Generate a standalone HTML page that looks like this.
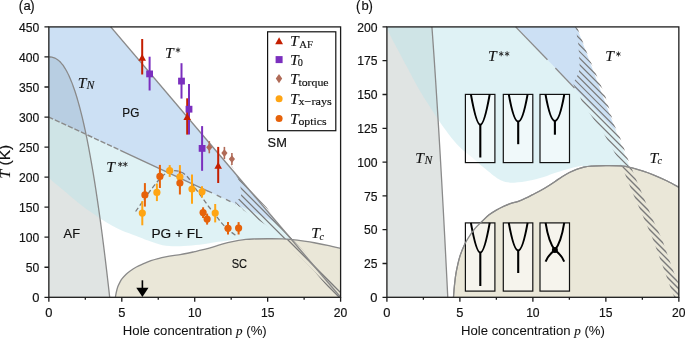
<!DOCTYPE html><html><head><meta charset="utf-8"><style>html,body{margin:0;padding:0;background:#fff;}svg{display:block;will-change:transform;}.s{font-family:"Liberation Sans",sans-serif;stroke:#111;stroke-width:0.18px;}.m{font-family:"Liberation Serif",serif;font-style:italic;stroke:#111;stroke-width:0.12px;}.r{font-family:"Liberation Serif",serif;stroke:#111;stroke-width:0.15px;}</style></head><body>
<svg width="685" height="338" viewBox="0 0 685 338">
<clipPath id="clipa"><rect x="48.85" y="26.9" width="291.75" height="270.4"/></clipPath>
<g clip-path="url(#clipa)">
<path d="M48.85,56.94 C49.1,56.95 49.86,56.95 50.37,56.99 C50.88,57.03 51.38,57.09 51.89,57.19 C52.4,57.28 52.91,57.41 53.41,57.57 C53.92,57.73 54.43,57.92 54.93,58.15 C55.44,58.38 55.95,58.65 56.45,58.96 C56.96,59.27 57.47,59.61 57.97,60.01 C58.48,60.4 58.99,60.83 59.5,61.31 C60,61.79 60.51,62.31 61.02,62.88 C61.52,63.45 62.03,64.06 62.54,64.72 C63.04,65.39 63.55,66.1 64.06,66.86 C64.56,67.62 65.07,68.42 65.58,69.28 C66.09,70.15 66.59,71.06 67.1,72.02 C67.61,72.98 68.11,74 68.62,75.07 C69.13,76.13 69.63,77.26 70.14,78.43 C70.65,79.61 71.15,80.84 71.66,82.13 C72.17,83.42 72.68,84.76 73.18,86.16 C73.69,87.56 74.2,89.01 74.7,90.53 C75.21,92.04 75.72,93.62 76.22,95.25 C76.73,96.88 77.24,98.57 77.74,100.32 C78.25,102.07 78.76,103.88 79.26,105.75 C79.77,107.62 80.28,109.55 80.79,111.55 C81.29,113.54 81.8,115.6 82.31,117.71 C82.81,119.83 83.32,122.01 83.83,124.26 C84.33,126.5 84.84,128.81 85.35,131.18 C85.85,133.55 86.36,135.98 86.87,138.49 C87.38,140.99 87.88,143.55 88.39,146.18 C88.9,148.82 89.4,151.51 89.91,154.28 C90.42,157.04 90.92,159.87 91.43,162.77 C91.94,165.67 92.44,168.63 92.95,171.66 C93.46,174.7 93.97,177.8 94.47,180.97 C94.98,184.14 95.49,187.37 95.99,190.68 C96.5,193.99 97.01,197.36 97.51,200.81 C98.02,204.26 98.53,207.77 99.03,211.36 C99.54,214.95 100.05,218.61 100.56,222.34 C101.06,226.07 101.57,229.87 102.08,233.74 C102.58,237.61 103.09,241.56 103.6,245.57 C104.1,249.59 104.61,253.68 105.12,257.84 C105.62,262.01 106.13,266.24 106.64,270.55 C107.15,274.86 107.65,279.25 108.16,283.7 C108.67,288.16 109.43,295.03 109.68,297.3 L48.85,297.3 L48.85,56.94 Z" fill="rgb(224,228,227)" fill-opacity="1"/>
<path d="M48.85,117.03 L278.06,223.72 L340.6,297.3 L244.32,297.3 L244.32,238.71 L244.32,238.71 C242.38,238.91 237.03,239.39 232.65,239.92 C228.28,240.44 222.44,241.21 218.06,241.84 C213.69,242.47 210.77,243.1 206.4,243.7 C202.02,244.3 196.91,245 191.81,245.44 C186.7,245.88 180.62,246.36 175.76,246.34 C170.9,246.32 167.25,246.29 162.63,245.32 C158.01,244.35 152.42,242.07 148.04,240.52 C143.67,238.96 140.75,237.66 136.38,236.01 C132,234.36 126.24,232.55 121.79,230.6 C117.34,228.65 113.81,226.7 109.68,224.29 C105.55,221.89 101.54,219.23 96.99,216.18 C92.44,213.13 87.02,209.47 82.4,205.96 C77.78,202.46 72.43,197.75 69.27,195.15 C66.11,192.55 65.63,192.14 63.44,190.34 C61.25,188.54 58.58,186.44 56.14,184.33 C53.71,182.23 50.07,178.82 48.85,177.72 Z" fill="rgb(187,227,234)" fill-opacity="0.47"/>
<path d="M48.85,-3.14 L85.22,-3.14 L278.06,223.72 L48.85,117.03 Z" fill="rgb(109,166,224)" fill-opacity="0.35"/>
<path d="M115.37,297.3 C115.51,296.5 115.86,294.2 116.24,292.49 C116.63,290.79 117.14,288.69 117.7,287.08 C118.26,285.48 118.87,284.28 119.6,282.88 C120.33,281.48 120.99,280.12 122.08,278.67 C123.17,277.22 124.88,275.42 126.16,274.17 C127.45,272.91 128.11,272.36 129.81,271.16 C131.51,269.96 134.07,268.21 136.38,266.96 C138.68,265.7 141.24,264.7 143.67,263.65 C146.1,262.6 148.53,261.5 150.96,260.65 C153.39,259.79 155.82,259.17 158.26,258.54 C160.69,257.91 163.12,257.36 165.55,256.86 C167.98,256.36 170.41,255.91 172.84,255.54 C175.28,255.17 177.71,255.02 180.14,254.64 C182.57,254.26 185,253.76 187.43,253.25 C189.86,252.75 192.29,252.18 194.72,251.63 C197.16,251.08 199.59,250.55 202.02,249.95 C204.45,249.35 206.88,248.7 209.31,248.03 C211.74,247.36 214.17,246.65 216.61,245.92 C219.04,245.2 221.47,244.38 223.9,243.7 C226.33,243.02 228.76,242.39 231.19,241.84 C233.62,241.29 236.06,240.8 238.49,240.4 C240.92,240 243.35,239.66 245.78,239.43 C248.21,239.2 249.43,239.12 253.07,239.01 C256.72,238.9 262.8,238.79 267.66,238.77 C272.53,238.75 278.12,238.75 282.25,238.89 C286.38,239.03 288.81,239.24 292.46,239.61 C296.11,239.99 300.48,240.6 304.13,241.12 C307.78,241.64 310.21,241.99 314.34,242.74 C318.48,243.49 324.55,244.68 328.93,245.62 C333.31,246.56 338.66,247.93 340.6,248.39 L347.89,248.39 L347.89,297.3 Z" fill="rgb(234,231,216)"/>
<clipPath id="banda"><path d="M230.46,163.9 L234.84,173.52 L237.76,178.32 L240.24,185.17 L241.41,193.95 L240.68,197.55 L234.99,202.12 L238.49,206.27 L241.26,207.41 L243.74,210.47 L255.99,218.46 L265.62,224.65 L273.64,230.96 L280.79,236.43 L285.31,241 L294.8,251.33 L303.4,259.98 L314.34,271.16 L326.01,285.28 L333.6,294.66 L336.22,297.3 L346.44,297.3 L334.77,285.28 L323.82,271.46 L314.34,262.45 L307.05,254.64 L299.75,246.83 L290.27,236.49 L280.94,225.19 L276.12,220.75 L266.79,207.41 L256.14,196.23 L249.57,189.5 L238.93,177.12 L230.46,163.9 Z"/></clipPath>
<clipPath id="domea"><path d="M115.37,297.3 C115.51,296.5 115.86,294.2 116.24,292.49 C116.63,290.79 117.14,288.69 117.7,287.08 C118.26,285.48 118.87,284.28 119.6,282.88 C120.33,281.48 120.99,280.12 122.08,278.67 C123.17,277.22 124.88,275.42 126.16,274.17 C127.45,272.91 128.11,272.36 129.81,271.16 C131.51,269.96 134.07,268.21 136.38,266.96 C138.68,265.7 141.24,264.7 143.67,263.65 C146.1,262.6 148.53,261.5 150.96,260.65 C153.39,259.79 155.82,259.17 158.26,258.54 C160.69,257.91 163.12,257.36 165.55,256.86 C167.98,256.36 170.41,255.91 172.84,255.54 C175.28,255.17 177.71,255.02 180.14,254.64 C182.57,254.26 185,253.76 187.43,253.25 C189.86,252.75 192.29,252.18 194.72,251.63 C197.16,251.08 199.59,250.55 202.02,249.95 C204.45,249.35 206.88,248.7 209.31,248.03 C211.74,247.36 214.17,246.65 216.61,245.92 C219.04,245.2 221.47,244.38 223.9,243.7 C226.33,243.02 228.76,242.39 231.19,241.84 C233.62,241.29 236.06,240.8 238.49,240.4 C240.92,240 243.35,239.66 245.78,239.43 C248.21,239.2 249.43,239.12 253.07,239.01 C256.72,238.9 262.8,238.79 267.66,238.77 C272.53,238.75 278.12,238.75 282.25,238.89 C286.38,239.03 288.81,239.24 292.46,239.61 C296.11,239.99 300.48,240.6 304.13,241.12 C307.78,241.64 310.21,241.99 314.34,242.74 C318.48,243.49 324.55,244.68 328.93,245.62 C333.31,246.56 338.66,247.93 340.6,248.39 L347.89,248.39 L347.89,297.3 Z"/></clipPath>
<clipPath id="upa"><rect x="0" y="0" width="700" height="239.31"/></clipPath>
<clipPath id="loa"><rect x="0" y="239.31" width="700" height="400"/></clipPath>
<g clip-path="url(#banda)"><path d="M200,-790 L700,-290 M200,-783.4 L700,-283.4 M200,-776.8 L700,-276.8 M200,-770.2 L700,-270.2 M200,-763.6 L700,-263.6 M200,-757 L700,-257 M200,-750.4 L700,-250.4 M200,-743.8 L700,-243.8 M200,-737.2 L700,-237.2 M200,-730.6 L700,-230.6 M200,-724 L700,-224 M200,-717.4 L700,-217.4 M200,-710.8 L700,-210.8 M200,-704.2 L700,-204.2 M200,-697.6 L700,-197.6 M200,-691 L700,-191 M200,-684.4 L700,-184.4 M200,-677.8 L700,-177.8 M200,-671.2 L700,-171.2 M200,-664.6 L700,-164.6 M200,-658 L700,-158 M200,-651.4 L700,-151.4 M200,-644.8 L700,-144.8 M200,-638.2 L700,-138.2 M200,-631.6 L700,-131.6 M200,-625 L700,-125 M200,-618.4 L700,-118.4 M200,-611.8 L700,-111.8 M200,-605.2 L700,-105.2 M200,-598.6 L700,-98.6 M200,-592 L700,-92 M200,-585.4 L700,-85.4 M200,-578.8 L700,-78.8 M200,-572.2 L700,-72.2 M200,-565.6 L700,-65.6 M200,-559 L700,-59 M200,-552.4 L700,-52.4 M200,-545.8 L700,-45.8 M200,-539.2 L700,-39.2 M200,-532.6 L700,-32.6 M200,-526 L700,-26 M200,-519.4 L700,-19.4 M200,-512.8 L700,-12.8 M200,-506.2 L700,-6.2 M200,-499.6 L700,0.4 M200,-493 L700,7 M200,-486.4 L700,13.6 M200,-479.8 L700,20.2 M200,-473.2 L700,26.8 M200,-466.6 L700,33.4 M200,-460 L700,40 M200,-453.4 L700,46.6 M200,-446.8 L700,53.2 M200,-440.2 L700,59.8 M200,-433.6 L700,66.4 M200,-427 L700,73 M200,-420.4 L700,79.6 M200,-413.8 L700,86.2 M200,-407.2 L700,92.8 M200,-400.6 L700,99.4 M200,-394 L700,106 M200,-387.4 L700,112.6 M200,-380.8 L700,119.2 M200,-374.2 L700,125.8 M200,-367.6 L700,132.4 M200,-361 L700,139 M200,-354.4 L700,145.6 M200,-347.8 L700,152.2 M200,-341.2 L700,158.8 M200,-334.6 L700,165.4 M200,-328 L700,172 M200,-321.4 L700,178.6 M200,-314.8 L700,185.2 M200,-308.2 L700,191.8 M200,-301.6 L700,198.4 M200,-295 L700,205 M200,-288.4 L700,211.6 M200,-281.8 L700,218.2 M200,-275.2 L700,224.8 M200,-268.6 L700,231.4 M200,-262 L700,238 M200,-255.4 L700,244.6 M200,-248.8 L700,251.2 M200,-242.2 L700,257.8 M200,-235.6 L700,264.4 M200,-229 L700,271 M200,-222.4 L700,277.6 M200,-215.8 L700,284.2 M200,-209.2 L700,290.8 M200,-202.6 L700,297.4 M200,-196 L700,304 M200,-189.4 L700,310.6 M200,-182.8 L700,317.2 M200,-176.2 L700,323.8 M200,-169.6 L700,330.4 M200,-163 L700,337 M200,-156.4 L700,343.6 M200,-149.8 L700,350.2 M200,-143.2 L700,356.8 M200,-136.6 L700,363.4 M200,-130 L700,370 M200,-123.4 L700,376.6 M200,-116.8 L700,383.2 M200,-110.2 L700,389.8 M200,-103.6 L700,396.4 M200,-97 L700,403 M200,-90.4 L700,409.6 M200,-83.8 L700,416.2 M200,-77.2 L700,422.8 M200,-70.6 L700,429.4 M200,-64 L700,436 M200,-57.4 L700,442.6 M200,-50.8 L700,449.2 M200,-44.2 L700,455.8 M200,-37.6 L700,462.4 M200,-31 L700,469 M200,-24.4 L700,475.6 M200,-17.8 L700,482.2 M200,-11.2 L700,488.8 M200,-4.6 L700,495.4 M200,2 L700,502 M200,8.6 L700,508.6 M200,15.2 L700,515.2 M200,21.8 L700,521.8 M200,28.4 L700,528.4 M200,35 L700,535 M200,41.6 L700,541.6 M200,48.2 L700,548.2 M200,54.8 L700,554.8 M200,61.4 L700,561.4 M200,68 L700,568 M200,74.6 L700,574.6 M200,81.2 L700,581.2 M200,87.8 L700,587.8 M200,94.4 L700,594.4 M200,101 L700,601 M200,107.6 L700,607.6 M200,114.2 L700,614.2 M200,120.8 L700,620.8 M200,127.4 L700,627.4 M200,134 L700,634 M200,140.6 L700,640.6 M200,147.2 L700,647.2 M200,153.8 L700,653.8 M200,160.4 L700,660.4 M200,167 L700,667 M200,173.6 L700,673.6 M200,180.2 L700,680.2 M200,186.8 L700,686.8 M200,193.4 L700,693.4 M200,200 L700,700 M200,206.6 L700,706.6 M200,213.2 L700,713.2 M200,219.8 L700,719.8 M200,226.4 L700,726.4 M200,233 L700,733 M200,239.6 L700,739.6 M200,246.2 L700,746.2 M200,252.8 L700,752.8 M200,259.4 L700,759.4 M200,266 L700,766 M200,272.6 L700,772.6 M200,279.2 L700,779.2 M200,285.8 L700,785.8 M200,292.4 L700,792.4 M200,299 L700,799 M200,305.6 L700,805.6 M200,312.2 L700,812.2 M200,318.8 L700,818.8 M200,325.4 L700,825.4 M200,332 L700,832 M200,338.6 L700,838.6 M200,345.2 L700,845.2 M200,351.8 L700,851.8 M200,358.4 L700,858.4 M200,365 L700,865 M200,371.6 L700,871.6 M200,378.2 L700,878.2 M200,384.8 L700,884.8 M200,391.4 L700,891.4 M200,398 L700,898 M200,404.6 L700,904.6 M200,411.2 L700,911.2 M200,417.8 L700,917.8 M200,424.4 L700,924.4 M200,431 L700,931 M200,437.6 L700,937.6 M200,444.2 L700,944.2 M200,450.8 L700,950.8 M200,457.4 L700,957.4 M200,464 L700,964 M200,470.6 L700,970.6 M200,477.2 L700,977.2 M200,483.8 L700,983.8 M200,490.4 L700,990.4 M200,497 L700,997 M200,503.6 L700,1003.6 M200,510.2 L700,1010.2 M200,516.8 L700,1016.8 M200,523.4 L700,1023.4 M200,530 L700,1030 M200,536.6 L700,1036.6 M200,543.2 L700,1043.2 M200,549.8 L700,1049.8 M200,556.4 L700,1056.4 M200,563 L700,1063 M200,569.6 L700,1069.6 M200,576.2 L700,1076.2 M200,582.8 L700,1082.8 M200,589.4 L700,1089.4 M200,596 L700,1096 M200,602.6 L700,1102.6 M200,609.2 L700,1109.2 M200,615.8 L700,1115.8 M200,622.4 L700,1122.4 M200,629 L700,1129 M200,635.6 L700,1135.6 M200,642.2 L700,1142.2 M200,648.8 L700,1148.8 M200,655.4 L700,1155.4 M200,662 L700,1162 M200,668.6 L700,1168.6 M200,675.2 L700,1175.2 M200,681.8 L700,1181.8 M200,688.4 L700,1188.4 M200,695 L700,1195 M200,701.6 L700,1201.6 M200,708.2 L700,1208.2 M200,714.8 L700,1214.8 M200,721.4 L700,1221.4 M200,728 L700,1228 M200,734.6 L700,1234.6 M200,741.2 L700,1241.2 M200,747.8 L700,1247.8 M200,754.4 L700,1254.4 M200,761 L700,1261 M200,767.6 L700,1267.6 M200,774.2 L700,1274.2 M200,780.8 L700,1280.8 M200,787.4 L700,1287.4 M200,794 L700,1294 M200,800.6 L700,1300.6 M200,807.2 L700,1307.2 M200,813.8 L700,1313.8 M200,820.4 L700,1320.4 M200,827 L700,1327 M200,833.6 L700,1333.6 M200,840.2 L700,1340.2 M200,846.8 L700,1346.8 M200,853.4 L700,1353.4 M200,860 L700,1360 M200,866.6 L700,1366.6 M200,873.2 L700,1373.2 M200,879.8 L700,1379.8 M200,886.4 L700,1386.4 M200,893 L700,1393 M200,899.6 L700,1399.6 M200,906.2 L700,1406.2 M200,912.8 L700,1412.8 M200,919.4 L700,1419.4 M200,926 L700,1426 M200,932.6 L700,1432.6 M200,939.2 L700,1439.2 M200,945.8 L700,1445.8 M200,952.4 L700,1452.4 M200,959 L700,1459 M200,965.6 L700,1465.6 M200,972.2 L700,1472.2 M200,978.8 L700,1478.8 M200,985.4 L700,1485.4 M200,992 L700,1492 M200,998.6 L700,1498.6 M200,1005.2 L700,1505.2 M200,1011.8 L700,1511.8 M200,1018.4 L700,1518.4 M200,1025 L700,1525 M200,1031.6 L700,1531.6 M200,1038.2 L700,1538.2 M200,1044.8 L700,1544.8 M200,1051.4 L700,1551.4 M200,1058 L700,1558 M200,1064.6 L700,1564.6 M200,1071.2 L700,1571.2 M200,1077.8 L700,1577.8 M200,1084.4 L700,1584.4 M200,1091 L700,1591 M200,1097.6 L700,1597.6 M200,1104.2 L700,1604.2 M200,1110.8 L700,1610.8 M200,1117.4 L700,1617.4 M200,1124 L700,1624 M200,1130.6 L700,1630.6 M200,1137.2 L700,1637.2 M200,1143.8 L700,1643.8 M200,1150.4 L700,1650.4 M200,1157 L700,1657 M200,1163.6 L700,1663.6 M200,1170.2 L700,1670.2 M200,1176.8 L700,1676.8 M200,1183.4 L700,1683.4" stroke="#7a7a7a" stroke-width="1.2" fill="none" clip-path="url(#upa)"/></g>
<g clip-path="url(#banda)"><path d="M200,-700 L700,-200 M200,-694 L700,-194 M200,-688 L700,-188 M200,-682 L700,-182 M200,-676 L700,-176 M200,-670 L700,-170 M200,-664 L700,-164 M200,-658 L700,-158 M200,-652 L700,-152 M200,-646 L700,-146 M200,-640 L700,-140 M200,-634 L700,-134 M200,-628 L700,-128 M200,-622 L700,-122 M200,-616 L700,-116 M200,-610 L700,-110 M200,-604 L700,-104 M200,-598 L700,-98 M200,-592 L700,-92 M200,-586 L700,-86 M200,-580 L700,-80 M200,-574 L700,-74 M200,-568 L700,-68 M200,-562 L700,-62 M200,-556 L700,-56 M200,-550 L700,-50 M200,-544 L700,-44 M200,-538 L700,-38 M200,-532 L700,-32 M200,-526 L700,-26 M200,-520 L700,-20 M200,-514 L700,-14 M200,-508 L700,-8 M200,-502 L700,-2 M200,-496 L700,4 M200,-490 L700,10 M200,-484 L700,16 M200,-478 L700,22 M200,-472 L700,28 M200,-466 L700,34 M200,-460 L700,40 M200,-454 L700,46 M200,-448 L700,52 M200,-442 L700,58 M200,-436 L700,64 M200,-430 L700,70 M200,-424 L700,76 M200,-418 L700,82 M200,-412 L700,88 M200,-406 L700,94 M200,-400 L700,100 M200,-394 L700,106 M200,-388 L700,112 M200,-382 L700,118 M200,-376 L700,124 M200,-370 L700,130 M200,-364 L700,136 M200,-358 L700,142 M200,-352 L700,148 M200,-346 L700,154 M200,-340 L700,160 M200,-334 L700,166 M200,-328 L700,172 M200,-322 L700,178 M200,-316 L700,184 M200,-310 L700,190 M200,-304 L700,196 M200,-298 L700,202 M200,-292 L700,208 M200,-286 L700,214 M200,-280 L700,220 M200,-274 L700,226 M200,-268 L700,232 M200,-262 L700,238 M200,-256 L700,244 M200,-250 L700,250 M200,-244 L700,256 M200,-238 L700,262 M200,-232 L700,268 M200,-226 L700,274 M200,-220 L700,280 M200,-214 L700,286 M200,-208 L700,292 M200,-202 L700,298 M200,-196 L700,304 M200,-190 L700,310 M200,-184 L700,316 M200,-178 L700,322 M200,-172 L700,328 M200,-166 L700,334 M200,-160 L700,340 M200,-154 L700,346 M200,-148 L700,352 M200,-142 L700,358 M200,-136 L700,364 M200,-130 L700,370 M200,-124 L700,376 M200,-118 L700,382 M200,-112 L700,388 M200,-106 L700,394 M200,-100 L700,400 M200,-94 L700,406 M200,-88 L700,412 M200,-82 L700,418 M200,-76 L700,424 M200,-70 L700,430 M200,-64 L700,436 M200,-58 L700,442 M200,-52 L700,448 M200,-46 L700,454 M200,-40 L700,460 M200,-34 L700,466 M200,-28 L700,472 M200,-22 L700,478 M200,-16 L700,484 M200,-10 L700,490 M200,-4 L700,496 M200,2 L700,502 M200,8 L700,508 M200,14 L700,514 M200,20 L700,520 M200,26 L700,526 M200,32 L700,532 M200,38 L700,538 M200,44 L700,544 M200,50 L700,550 M200,56 L700,556 M200,62 L700,562 M200,68 L700,568 M200,74 L700,574 M200,80 L700,580 M200,86 L700,586 M200,92 L700,592 M200,98 L700,598 M200,104 L700,604 M200,110 L700,610 M200,116 L700,616 M200,122 L700,622 M200,128 L700,628 M200,134 L700,634 M200,140 L700,640 M200,146 L700,646 M200,152 L700,652 M200,158 L700,658 M200,164 L700,664 M200,170 L700,670 M200,176 L700,676 M200,182 L700,682 M200,188 L700,688 M200,194 L700,694 M200,200 L700,700 M200,206 L700,706 M200,212 L700,712 M200,218 L700,718 M200,224 L700,724 M200,230 L700,730 M200,236 L700,736 M200,242 L700,742 M200,248 L700,748 M200,254 L700,754 M200,260 L700,760 M200,266 L700,766 M200,272 L700,772 M200,278 L700,778 M200,284 L700,784 M200,290 L700,790 M200,296 L700,796 M200,302 L700,802 M200,308 L700,808 M200,314 L700,814 M200,320 L700,820 M200,326 L700,826 M200,332 L700,832 M200,338 L700,838 M200,344 L700,844 M200,350 L700,850 M200,356 L700,856 M200,362 L700,862 M200,368 L700,868 M200,374 L700,874 M200,380 L700,880 M200,386 L700,886 M200,392 L700,892 M200,398 L700,898 M200,404 L700,904 M200,410 L700,910 M200,416 L700,916 M200,422 L700,922 M200,428 L700,928 M200,434 L700,934 M200,440 L700,940 M200,446 L700,946 M200,452 L700,952 M200,458 L700,958 M200,464 L700,964 M200,470 L700,970 M200,476 L700,976 M200,482 L700,982 M200,488 L700,988 M200,494 L700,994 M200,500 L700,1000 M200,506 L700,1006 M200,512 L700,1012 M200,518 L700,1018 M200,524 L700,1024 M200,530 L700,1030 M200,536 L700,1036 M200,542 L700,1042 M200,548 L700,1048 M200,554 L700,1054 M200,560 L700,1060 M200,566 L700,1066 M200,572 L700,1072 M200,578 L700,1078 M200,584 L700,1084 M200,590 L700,1090 M200,596 L700,1096 M200,602 L700,1102 M200,608 L700,1108 M200,614 L700,1114 M200,620 L700,1120 M200,626 L700,1126 M200,632 L700,1132 M200,638 L700,1138 M200,644 L700,1144 M200,650 L700,1150 M200,656 L700,1156 M200,662 L700,1162 M200,668 L700,1168 M200,674 L700,1174 M200,680 L700,1180 M200,686 L700,1186 M200,692 L700,1192 M200,698 L700,1198 M200,704 L700,1204 M200,710 L700,1210 M200,716 L700,1216 M200,722 L700,1222 M200,728 L700,1228 M200,734 L700,1234 M200,740 L700,1240 M200,746 L700,1246 M200,752 L700,1252 M200,758 L700,1258 M200,764 L700,1264 M200,770 L700,1270 M200,776 L700,1276 M200,782 L700,1282 M200,788 L700,1288 M200,794 L700,1294 M200,800 L700,1300 M200,806 L700,1306 M200,812 L700,1312 M200,818 L700,1318 M200,824 L700,1324 M200,830 L700,1330 M200,836 L700,1336 M200,842 L700,1342 M200,848 L700,1348 M200,854 L700,1354 M200,860 L700,1360 M200,866 L700,1366 M200,872 L700,1372 M200,878 L700,1378 M200,884 L700,1384 M200,890 L700,1390 M200,896 L700,1396 M200,902 L700,1402 M200,908 L700,1408 M200,914 L700,1414 M200,920 L700,1420 M200,926 L700,1426 M200,932 L700,1432 M200,938 L700,1438 M200,944 L700,1444 M200,950 L700,1450 M200,956 L700,1456 M200,962 L700,1462 M200,968 L700,1468 M200,974 L700,1474 M200,980 L700,1480 M200,986 L700,1486 M200,992 L700,1492 M200,998 L700,1498 M200,1004 L700,1504 M200,1010 L700,1510 M200,1016 L700,1516 M200,1022 L700,1522 M200,1028 L700,1528 M200,1034 L700,1534 M200,1040 L700,1540 M200,1046 L700,1546 M200,1052 L700,1552 M200,1058 L700,1558 M200,1064 L700,1564 M200,1070 L700,1570 M200,1076 L700,1576 M200,1082 L700,1582 M200,1088 L700,1588 M200,1094 L700,1594" stroke="#7a7a7a" stroke-width="1.3" fill="none" clip-path="url(#loa)"/></g>
<path d="M48.85,56.94 C49.1,56.95 49.86,56.95 50.37,56.99 C50.88,57.03 51.38,57.09 51.89,57.19 C52.4,57.28 52.91,57.41 53.41,57.57 C53.92,57.73 54.43,57.92 54.93,58.15 C55.44,58.38 55.95,58.65 56.45,58.96 C56.96,59.27 57.47,59.61 57.97,60.01 C58.48,60.4 58.99,60.83 59.5,61.31 C60,61.79 60.51,62.31 61.02,62.88 C61.52,63.45 62.03,64.06 62.54,64.72 C63.04,65.39 63.55,66.1 64.06,66.86 C64.56,67.62 65.07,68.42 65.58,69.28 C66.09,70.15 66.59,71.06 67.1,72.02 C67.61,72.98 68.11,74 68.62,75.07 C69.13,76.13 69.63,77.26 70.14,78.43 C70.65,79.61 71.15,80.84 71.66,82.13 C72.17,83.42 72.68,84.76 73.18,86.16 C73.69,87.56 74.2,89.01 74.7,90.53 C75.21,92.04 75.72,93.62 76.22,95.25 C76.73,96.88 77.24,98.57 77.74,100.32 C78.25,102.07 78.76,103.88 79.26,105.75 C79.77,107.62 80.28,109.55 80.79,111.55 C81.29,113.54 81.8,115.6 82.31,117.71 C82.81,119.83 83.32,122.01 83.83,124.26 C84.33,126.5 84.84,128.81 85.35,131.18 C85.85,133.55 86.36,135.98 86.87,138.49 C87.38,140.99 87.88,143.55 88.39,146.18 C88.9,148.82 89.4,151.51 89.91,154.28 C90.42,157.04 90.92,159.87 91.43,162.77 C91.94,165.67 92.44,168.63 92.95,171.66 C93.46,174.7 93.97,177.8 94.47,180.97 C94.98,184.14 95.49,187.37 95.99,190.68 C96.5,193.99 97.01,197.36 97.51,200.81 C98.02,204.26 98.53,207.77 99.03,211.36 C99.54,214.95 100.05,218.61 100.56,222.34 C101.06,226.07 101.57,229.87 102.08,233.74 C102.58,237.61 103.09,241.56 103.6,245.57 C104.1,249.59 104.61,253.68 105.12,257.84 C105.62,262.01 106.13,266.24 106.64,270.55 C107.15,274.86 107.65,279.25 108.16,283.7 C108.67,288.16 109.43,295.03 109.68,297.3" stroke="#8a8a8a" stroke-width="1.3" fill="none"/>
<path d="M115.37,297.3 C115.51,296.5 115.86,294.2 116.24,292.49 C116.63,290.79 117.14,288.69 117.7,287.08 C118.26,285.48 118.87,284.28 119.6,282.88 C120.33,281.48 120.99,280.12 122.08,278.67 C123.17,277.22 124.88,275.42 126.16,274.17 C127.45,272.91 128.11,272.36 129.81,271.16 C131.51,269.96 134.07,268.21 136.38,266.96 C138.68,265.7 141.24,264.7 143.67,263.65 C146.1,262.6 148.53,261.5 150.96,260.65 C153.39,259.79 155.82,259.17 158.26,258.54 C160.69,257.91 163.12,257.36 165.55,256.86 C167.98,256.36 170.41,255.91 172.84,255.54 C175.28,255.17 177.71,255.02 180.14,254.64 C182.57,254.26 185,253.76 187.43,253.25 C189.86,252.75 192.29,252.18 194.72,251.63 C197.16,251.08 199.59,250.55 202.02,249.95 C204.45,249.35 206.88,248.7 209.31,248.03 C211.74,247.36 214.17,246.65 216.61,245.92 C219.04,245.2 221.47,244.38 223.9,243.7 C226.33,243.02 228.76,242.39 231.19,241.84 C233.62,241.29 236.06,240.8 238.49,240.4 C240.92,240 243.35,239.66 245.78,239.43 C248.21,239.2 249.43,239.12 253.07,239.01 C256.72,238.9 262.8,238.79 267.66,238.77 C272.53,238.75 278.12,238.75 282.25,238.89 C286.38,239.03 288.81,239.24 292.46,239.61 C296.11,239.99 300.48,240.6 304.13,241.12 C307.78,241.64 310.21,241.99 314.34,242.74 C318.48,243.49 324.55,244.68 328.93,245.62 C333.31,246.56 338.66,247.93 340.6,248.39" stroke="#8a8a8a" stroke-width="1.3" fill="none"/>
</g>
<clipPath id="clipb"><rect x="386.9" y="26.9" width="291.95" height="270.4"/></clipPath>
<g clip-path="url(#clipb)">
<path d="M386.9,-243.5 C387.15,-243.48 387.91,-243.48 388.42,-243.39 C388.93,-243.3 389.44,-243.16 389.94,-242.95 C390.45,-242.74 390.96,-242.46 391.47,-242.1 C391.97,-241.74 392.48,-241.31 392.99,-240.79 C393.49,-240.27 394,-239.67 394.51,-238.97 C395.02,-238.28 395.52,-237.49 396.03,-236.61 C396.54,-235.73 397.05,-234.76 397.55,-233.68 C398.06,-232.61 398.57,-231.43 399.07,-230.15 C399.58,-228.87 400.09,-227.49 400.6,-226 C401.1,-224.51 401.61,-222.91 402.12,-221.2 C402.63,-219.49 403.13,-217.67 403.64,-215.73 C404.15,-213.8 404.65,-211.75 405.16,-209.58 C405.67,-207.42 406.18,-205.13 406.68,-202.73 C407.19,-200.32 407.7,-197.8 408.21,-195.15 C408.71,-192.5 409.22,-189.73 409.73,-186.84 C410.23,-183.94 410.74,-180.92 411.25,-177.77 C411.76,-174.62 412.26,-171.34 412.77,-167.93 C413.28,-164.52 413.78,-160.99 414.29,-157.32 C414.8,-153.64 415.31,-149.84 415.81,-145.9 C416.32,-141.97 416.83,-137.89 417.34,-133.68 C417.84,-129.47 418.35,-125.13 418.86,-120.64 C419.36,-116.16 419.87,-111.53 420.38,-106.77 C420.89,-102 421.39,-97.1 421.9,-92.05 C422.41,-87 422.92,-81.81 423.42,-76.47 C423.93,-71.14 424.44,-65.66 424.94,-60.03 C425.45,-54.4 425.96,-48.63 426.47,-42.71 C426.97,-36.79 427.48,-30.72 427.99,-24.5 C428.5,-18.29 429,-11.92 429.51,-5.4 C430.02,1.12 430.52,7.79 431.03,14.62 C431.54,21.44 432.05,28.42 432.55,35.55 C433.06,42.68 433.57,49.96 434.08,57.41 C434.58,64.85 435.09,72.44 435.6,80.2 C436.1,87.96 436.61,95.87 437.12,103.94 C437.63,112.01 438.13,120.24 438.64,128.63 C439.15,137.03 439.66,145.58 440.16,154.29 C440.67,163.01 441.18,171.88 441.68,180.92 C442.19,189.96 442.7,199.16 443.21,208.53 C443.71,217.89 444.22,227.42 444.73,237.12 C445.24,246.82 445.74,256.68 446.25,266.71 C446.76,276.74 447.52,292.2 447.77,297.3 L386.9,297.3 L386.9,-243.5 Z" fill="rgb(224,228,227)" fill-opacity="1"/>
<path d="M386.9,-108.3 L616.27,131.75 L678.85,297.3 L582.51,297.3 L582.51,165.48 L582.51,165.48 C580.56,165.93 575.21,167.01 570.83,168.18 C566.45,169.36 560.61,171.09 556.23,172.51 C551.85,173.93 548.93,175.35 544.55,176.7 C540.17,178.05 535.06,179.63 529.96,180.62 C524.85,181.61 518.76,182.7 513.9,182.65 C509.03,182.61 505.38,182.54 500.76,180.35 C496.14,178.17 490.54,173.03 486.16,169.54 C481.78,166.04 478.86,163.11 474.49,159.4 C470.11,155.68 464.34,151.62 459.89,147.23 C455.44,142.83 451.91,138.44 447.77,133.03 C443.64,127.62 439.62,121.65 435.07,114.78 C430.52,107.91 425.1,99.68 420.47,91.8 C415.85,83.91 410.5,73.32 407.34,67.46 C404.17,61.6 403.69,60.7 401.5,56.64 C399.31,52.59 396.63,47.86 394.2,43.12 C391.77,38.39 388.12,30.73 386.9,28.25 Z" fill="rgb(187,227,234)" fill-opacity="0.47"/>
<path d="M386.9,-40.7 L551.07,-40.7 L616.27,131.75 L386.9,-108.3 Z" fill="rgb(109,166,224)" fill-opacity="0.35"/>
<path d="M453.46,297.3 C453.61,295.5 453.95,290.31 454.34,286.48 C454.73,282.65 455.24,277.92 455.8,274.32 C456.36,270.71 456.97,268.01 457.7,264.85 C458.43,261.7 459.08,258.66 460.18,255.39 C461.27,252.12 462.98,248.06 464.27,245.25 C465.56,242.43 466.21,241.19 467.92,238.49 C469.62,235.78 472.17,231.84 474.49,229.02 C476.8,226.21 479.35,223.95 481.78,221.59 C484.22,219.22 486.65,216.74 489.08,214.83 C491.52,212.91 493.95,211.52 496.38,210.1 C498.81,208.68 501.25,207.44 503.68,206.31 C506.11,205.18 508.55,204.17 510.98,203.34 C513.41,202.5 515.84,202.16 518.28,201.31 C520.71,200.45 523.14,199.33 525.58,198.2 C528.01,197.07 530.44,195.79 532.88,194.55 C535.31,193.31 537.74,192.11 540.17,190.76 C542.61,189.41 545.04,187.95 547.47,186.44 C549.91,184.93 552.34,183.33 554.77,181.7 C557.2,180.08 559.64,178.23 562.07,176.7 C564.5,175.17 566.94,173.75 569.37,172.51 C571.8,171.27 574.23,170.17 576.67,169.27 C579.1,168.36 581.53,167.62 583.97,167.1 C586.4,166.58 587.62,166.4 591.26,166.16 C594.91,165.91 601,165.66 605.86,165.62 C610.73,165.57 616.32,165.57 620.46,165.89 C624.6,166.2 627.03,166.67 630.68,167.51 C634.33,168.34 638.71,169.72 642.36,170.89 C646.01,172.06 648.44,172.85 652.57,174.54 C656.71,176.23 662.79,178.91 667.17,181.03 C671.55,183.15 676.9,186.21 678.85,187.25 L686.15,187.25 L686.15,297.3 Z" fill="rgb(234,231,216)"/>
<clipPath id="bandb"><path d="M568.64,-2.84 L573.02,18.79 L575.94,29.6 L578.42,45.02 L579.59,64.76 L578.86,72.87 L573.16,83.14 L576.67,92.47 L579.44,95.04 L581.92,101.94 L594.18,119.92 L603.82,133.84 L611.85,148.04 L619,160.34 L623.53,170.62 L633.01,193.87 L641.63,213.34 L652.57,238.49 L664.25,270.26 L671.84,291.35 L674.47,297.3 L684.69,297.3 L673.01,270.26 L662.06,239.16 L652.57,218.88 L645.28,201.31 L637.98,183.73 L628.49,160.48 L619.15,135.06 L614.33,125.06 L604.99,95.04 L594.33,69.89 L587.76,54.75 L577.11,26.9 L568.64,-2.84 Z"/></clipPath>
<clipPath id="domeb"><path d="M453.46,297.3 C453.61,295.5 453.95,290.31 454.34,286.48 C454.73,282.65 455.24,277.92 455.8,274.32 C456.36,270.71 456.97,268.01 457.7,264.85 C458.43,261.7 459.08,258.66 460.18,255.39 C461.27,252.12 462.98,248.06 464.27,245.25 C465.56,242.43 466.21,241.19 467.92,238.49 C469.62,235.78 472.17,231.84 474.49,229.02 C476.8,226.21 479.35,223.95 481.78,221.59 C484.22,219.22 486.65,216.74 489.08,214.83 C491.52,212.91 493.95,211.52 496.38,210.1 C498.81,208.68 501.25,207.44 503.68,206.31 C506.11,205.18 508.55,204.17 510.98,203.34 C513.41,202.5 515.84,202.16 518.28,201.31 C520.71,200.45 523.14,199.33 525.58,198.2 C528.01,197.07 530.44,195.79 532.88,194.55 C535.31,193.31 537.74,192.11 540.17,190.76 C542.61,189.41 545.04,187.95 547.47,186.44 C549.91,184.93 552.34,183.33 554.77,181.7 C557.2,180.08 559.64,178.23 562.07,176.7 C564.5,175.17 566.94,173.75 569.37,172.51 C571.8,171.27 574.23,170.17 576.67,169.27 C579.1,168.36 581.53,167.62 583.97,167.1 C586.4,166.58 587.62,166.4 591.26,166.16 C594.91,165.91 601,165.66 605.86,165.62 C610.73,165.57 616.32,165.57 620.46,165.89 C624.6,166.2 627.03,166.67 630.68,167.51 C634.33,168.34 638.71,169.72 642.36,170.89 C646.01,172.06 648.44,172.85 652.57,174.54 C656.71,176.23 662.79,178.91 667.17,181.03 C671.55,183.15 676.9,186.21 678.85,187.25 L686.15,187.25 L686.15,297.3 Z"/></clipPath>
<clipPath id="upb"><rect x="0" y="0" width="700" height="166.83"/></clipPath>
<clipPath id="lob"><rect x="0" y="166.83" width="700" height="400"/></clipPath>
<g clip-path="url(#bandb)"><path d="M200,-790 L700,-290 M200,-783.4 L700,-283.4 M200,-776.8 L700,-276.8 M200,-770.2 L700,-270.2 M200,-763.6 L700,-263.6 M200,-757 L700,-257 M200,-750.4 L700,-250.4 M200,-743.8 L700,-243.8 M200,-737.2 L700,-237.2 M200,-730.6 L700,-230.6 M200,-724 L700,-224 M200,-717.4 L700,-217.4 M200,-710.8 L700,-210.8 M200,-704.2 L700,-204.2 M200,-697.6 L700,-197.6 M200,-691 L700,-191 M200,-684.4 L700,-184.4 M200,-677.8 L700,-177.8 M200,-671.2 L700,-171.2 M200,-664.6 L700,-164.6 M200,-658 L700,-158 M200,-651.4 L700,-151.4 M200,-644.8 L700,-144.8 M200,-638.2 L700,-138.2 M200,-631.6 L700,-131.6 M200,-625 L700,-125 M200,-618.4 L700,-118.4 M200,-611.8 L700,-111.8 M200,-605.2 L700,-105.2 M200,-598.6 L700,-98.6 M200,-592 L700,-92 M200,-585.4 L700,-85.4 M200,-578.8 L700,-78.8 M200,-572.2 L700,-72.2 M200,-565.6 L700,-65.6 M200,-559 L700,-59 M200,-552.4 L700,-52.4 M200,-545.8 L700,-45.8 M200,-539.2 L700,-39.2 M200,-532.6 L700,-32.6 M200,-526 L700,-26 M200,-519.4 L700,-19.4 M200,-512.8 L700,-12.8 M200,-506.2 L700,-6.2 M200,-499.6 L700,0.4 M200,-493 L700,7 M200,-486.4 L700,13.6 M200,-479.8 L700,20.2 M200,-473.2 L700,26.8 M200,-466.6 L700,33.4 M200,-460 L700,40 M200,-453.4 L700,46.6 M200,-446.8 L700,53.2 M200,-440.2 L700,59.8 M200,-433.6 L700,66.4 M200,-427 L700,73 M200,-420.4 L700,79.6 M200,-413.8 L700,86.2 M200,-407.2 L700,92.8 M200,-400.6 L700,99.4 M200,-394 L700,106 M200,-387.4 L700,112.6 M200,-380.8 L700,119.2 M200,-374.2 L700,125.8 M200,-367.6 L700,132.4 M200,-361 L700,139 M200,-354.4 L700,145.6 M200,-347.8 L700,152.2 M200,-341.2 L700,158.8 M200,-334.6 L700,165.4 M200,-328 L700,172 M200,-321.4 L700,178.6 M200,-314.8 L700,185.2 M200,-308.2 L700,191.8 M200,-301.6 L700,198.4 M200,-295 L700,205 M200,-288.4 L700,211.6 M200,-281.8 L700,218.2 M200,-275.2 L700,224.8 M200,-268.6 L700,231.4 M200,-262 L700,238 M200,-255.4 L700,244.6 M200,-248.8 L700,251.2 M200,-242.2 L700,257.8 M200,-235.6 L700,264.4 M200,-229 L700,271 M200,-222.4 L700,277.6 M200,-215.8 L700,284.2 M200,-209.2 L700,290.8 M200,-202.6 L700,297.4 M200,-196 L700,304 M200,-189.4 L700,310.6 M200,-182.8 L700,317.2 M200,-176.2 L700,323.8 M200,-169.6 L700,330.4 M200,-163 L700,337 M200,-156.4 L700,343.6 M200,-149.8 L700,350.2 M200,-143.2 L700,356.8 M200,-136.6 L700,363.4 M200,-130 L700,370 M200,-123.4 L700,376.6 M200,-116.8 L700,383.2 M200,-110.2 L700,389.8 M200,-103.6 L700,396.4 M200,-97 L700,403 M200,-90.4 L700,409.6 M200,-83.8 L700,416.2 M200,-77.2 L700,422.8 M200,-70.6 L700,429.4 M200,-64 L700,436 M200,-57.4 L700,442.6 M200,-50.8 L700,449.2 M200,-44.2 L700,455.8 M200,-37.6 L700,462.4 M200,-31 L700,469 M200,-24.4 L700,475.6 M200,-17.8 L700,482.2 M200,-11.2 L700,488.8 M200,-4.6 L700,495.4 M200,2 L700,502 M200,8.6 L700,508.6 M200,15.2 L700,515.2 M200,21.8 L700,521.8 M200,28.4 L700,528.4 M200,35 L700,535 M200,41.6 L700,541.6 M200,48.2 L700,548.2 M200,54.8 L700,554.8 M200,61.4 L700,561.4 M200,68 L700,568 M200,74.6 L700,574.6 M200,81.2 L700,581.2 M200,87.8 L700,587.8 M200,94.4 L700,594.4 M200,101 L700,601 M200,107.6 L700,607.6 M200,114.2 L700,614.2 M200,120.8 L700,620.8 M200,127.4 L700,627.4 M200,134 L700,634 M200,140.6 L700,640.6 M200,147.2 L700,647.2 M200,153.8 L700,653.8 M200,160.4 L700,660.4 M200,167 L700,667 M200,173.6 L700,673.6 M200,180.2 L700,680.2 M200,186.8 L700,686.8 M200,193.4 L700,693.4 M200,200 L700,700 M200,206.6 L700,706.6 M200,213.2 L700,713.2 M200,219.8 L700,719.8 M200,226.4 L700,726.4 M200,233 L700,733 M200,239.6 L700,739.6 M200,246.2 L700,746.2 M200,252.8 L700,752.8 M200,259.4 L700,759.4 M200,266 L700,766 M200,272.6 L700,772.6 M200,279.2 L700,779.2 M200,285.8 L700,785.8 M200,292.4 L700,792.4 M200,299 L700,799 M200,305.6 L700,805.6 M200,312.2 L700,812.2 M200,318.8 L700,818.8 M200,325.4 L700,825.4 M200,332 L700,832 M200,338.6 L700,838.6 M200,345.2 L700,845.2 M200,351.8 L700,851.8 M200,358.4 L700,858.4 M200,365 L700,865 M200,371.6 L700,871.6 M200,378.2 L700,878.2 M200,384.8 L700,884.8 M200,391.4 L700,891.4 M200,398 L700,898 M200,404.6 L700,904.6 M200,411.2 L700,911.2 M200,417.8 L700,917.8 M200,424.4 L700,924.4 M200,431 L700,931 M200,437.6 L700,937.6 M200,444.2 L700,944.2 M200,450.8 L700,950.8 M200,457.4 L700,957.4 M200,464 L700,964 M200,470.6 L700,970.6 M200,477.2 L700,977.2 M200,483.8 L700,983.8 M200,490.4 L700,990.4 M200,497 L700,997 M200,503.6 L700,1003.6 M200,510.2 L700,1010.2 M200,516.8 L700,1016.8 M200,523.4 L700,1023.4 M200,530 L700,1030 M200,536.6 L700,1036.6 M200,543.2 L700,1043.2 M200,549.8 L700,1049.8 M200,556.4 L700,1056.4 M200,563 L700,1063 M200,569.6 L700,1069.6 M200,576.2 L700,1076.2 M200,582.8 L700,1082.8 M200,589.4 L700,1089.4 M200,596 L700,1096 M200,602.6 L700,1102.6 M200,609.2 L700,1109.2 M200,615.8 L700,1115.8 M200,622.4 L700,1122.4 M200,629 L700,1129 M200,635.6 L700,1135.6 M200,642.2 L700,1142.2 M200,648.8 L700,1148.8 M200,655.4 L700,1155.4 M200,662 L700,1162 M200,668.6 L700,1168.6 M200,675.2 L700,1175.2 M200,681.8 L700,1181.8 M200,688.4 L700,1188.4 M200,695 L700,1195 M200,701.6 L700,1201.6 M200,708.2 L700,1208.2 M200,714.8 L700,1214.8 M200,721.4 L700,1221.4 M200,728 L700,1228 M200,734.6 L700,1234.6 M200,741.2 L700,1241.2 M200,747.8 L700,1247.8 M200,754.4 L700,1254.4 M200,761 L700,1261 M200,767.6 L700,1267.6 M200,774.2 L700,1274.2 M200,780.8 L700,1280.8 M200,787.4 L700,1287.4 M200,794 L700,1294 M200,800.6 L700,1300.6 M200,807.2 L700,1307.2 M200,813.8 L700,1313.8 M200,820.4 L700,1320.4 M200,827 L700,1327 M200,833.6 L700,1333.6 M200,840.2 L700,1340.2 M200,846.8 L700,1346.8 M200,853.4 L700,1353.4 M200,860 L700,1360 M200,866.6 L700,1366.6 M200,873.2 L700,1373.2 M200,879.8 L700,1379.8 M200,886.4 L700,1386.4 M200,893 L700,1393 M200,899.6 L700,1399.6 M200,906.2 L700,1406.2 M200,912.8 L700,1412.8 M200,919.4 L700,1419.4 M200,926 L700,1426 M200,932.6 L700,1432.6 M200,939.2 L700,1439.2 M200,945.8 L700,1445.8 M200,952.4 L700,1452.4 M200,959 L700,1459 M200,965.6 L700,1465.6 M200,972.2 L700,1472.2 M200,978.8 L700,1478.8 M200,985.4 L700,1485.4 M200,992 L700,1492 M200,998.6 L700,1498.6 M200,1005.2 L700,1505.2 M200,1011.8 L700,1511.8 M200,1018.4 L700,1518.4 M200,1025 L700,1525 M200,1031.6 L700,1531.6 M200,1038.2 L700,1538.2 M200,1044.8 L700,1544.8 M200,1051.4 L700,1551.4 M200,1058 L700,1558 M200,1064.6 L700,1564.6 M200,1071.2 L700,1571.2 M200,1077.8 L700,1577.8 M200,1084.4 L700,1584.4 M200,1091 L700,1591 M200,1097.6 L700,1597.6 M200,1104.2 L700,1604.2 M200,1110.8 L700,1610.8 M200,1117.4 L700,1617.4 M200,1124 L700,1624 M200,1130.6 L700,1630.6 M200,1137.2 L700,1637.2 M200,1143.8 L700,1643.8 M200,1150.4 L700,1650.4 M200,1157 L700,1657 M200,1163.6 L700,1663.6 M200,1170.2 L700,1670.2 M200,1176.8 L700,1676.8 M200,1183.4 L700,1683.4" stroke="#7a7a7a" stroke-width="1.2" fill="none" clip-path="url(#upb)"/></g>
<g clip-path="url(#bandb)"><path d="M200,-700 L700,-200 M200,-694 L700,-194 M200,-688 L700,-188 M200,-682 L700,-182 M200,-676 L700,-176 M200,-670 L700,-170 M200,-664 L700,-164 M200,-658 L700,-158 M200,-652 L700,-152 M200,-646 L700,-146 M200,-640 L700,-140 M200,-634 L700,-134 M200,-628 L700,-128 M200,-622 L700,-122 M200,-616 L700,-116 M200,-610 L700,-110 M200,-604 L700,-104 M200,-598 L700,-98 M200,-592 L700,-92 M200,-586 L700,-86 M200,-580 L700,-80 M200,-574 L700,-74 M200,-568 L700,-68 M200,-562 L700,-62 M200,-556 L700,-56 M200,-550 L700,-50 M200,-544 L700,-44 M200,-538 L700,-38 M200,-532 L700,-32 M200,-526 L700,-26 M200,-520 L700,-20 M200,-514 L700,-14 M200,-508 L700,-8 M200,-502 L700,-2 M200,-496 L700,4 M200,-490 L700,10 M200,-484 L700,16 M200,-478 L700,22 M200,-472 L700,28 M200,-466 L700,34 M200,-460 L700,40 M200,-454 L700,46 M200,-448 L700,52 M200,-442 L700,58 M200,-436 L700,64 M200,-430 L700,70 M200,-424 L700,76 M200,-418 L700,82 M200,-412 L700,88 M200,-406 L700,94 M200,-400 L700,100 M200,-394 L700,106 M200,-388 L700,112 M200,-382 L700,118 M200,-376 L700,124 M200,-370 L700,130 M200,-364 L700,136 M200,-358 L700,142 M200,-352 L700,148 M200,-346 L700,154 M200,-340 L700,160 M200,-334 L700,166 M200,-328 L700,172 M200,-322 L700,178 M200,-316 L700,184 M200,-310 L700,190 M200,-304 L700,196 M200,-298 L700,202 M200,-292 L700,208 M200,-286 L700,214 M200,-280 L700,220 M200,-274 L700,226 M200,-268 L700,232 M200,-262 L700,238 M200,-256 L700,244 M200,-250 L700,250 M200,-244 L700,256 M200,-238 L700,262 M200,-232 L700,268 M200,-226 L700,274 M200,-220 L700,280 M200,-214 L700,286 M200,-208 L700,292 M200,-202 L700,298 M200,-196 L700,304 M200,-190 L700,310 M200,-184 L700,316 M200,-178 L700,322 M200,-172 L700,328 M200,-166 L700,334 M200,-160 L700,340 M200,-154 L700,346 M200,-148 L700,352 M200,-142 L700,358 M200,-136 L700,364 M200,-130 L700,370 M200,-124 L700,376 M200,-118 L700,382 M200,-112 L700,388 M200,-106 L700,394 M200,-100 L700,400 M200,-94 L700,406 M200,-88 L700,412 M200,-82 L700,418 M200,-76 L700,424 M200,-70 L700,430 M200,-64 L700,436 M200,-58 L700,442 M200,-52 L700,448 M200,-46 L700,454 M200,-40 L700,460 M200,-34 L700,466 M200,-28 L700,472 M200,-22 L700,478 M200,-16 L700,484 M200,-10 L700,490 M200,-4 L700,496 M200,2 L700,502 M200,8 L700,508 M200,14 L700,514 M200,20 L700,520 M200,26 L700,526 M200,32 L700,532 M200,38 L700,538 M200,44 L700,544 M200,50 L700,550 M200,56 L700,556 M200,62 L700,562 M200,68 L700,568 M200,74 L700,574 M200,80 L700,580 M200,86 L700,586 M200,92 L700,592 M200,98 L700,598 M200,104 L700,604 M200,110 L700,610 M200,116 L700,616 M200,122 L700,622 M200,128 L700,628 M200,134 L700,634 M200,140 L700,640 M200,146 L700,646 M200,152 L700,652 M200,158 L700,658 M200,164 L700,664 M200,170 L700,670 M200,176 L700,676 M200,182 L700,682 M200,188 L700,688 M200,194 L700,694 M200,200 L700,700 M200,206 L700,706 M200,212 L700,712 M200,218 L700,718 M200,224 L700,724 M200,230 L700,730 M200,236 L700,736 M200,242 L700,742 M200,248 L700,748 M200,254 L700,754 M200,260 L700,760 M200,266 L700,766 M200,272 L700,772 M200,278 L700,778 M200,284 L700,784 M200,290 L700,790 M200,296 L700,796 M200,302 L700,802 M200,308 L700,808 M200,314 L700,814 M200,320 L700,820 M200,326 L700,826 M200,332 L700,832 M200,338 L700,838 M200,344 L700,844 M200,350 L700,850 M200,356 L700,856 M200,362 L700,862 M200,368 L700,868 M200,374 L700,874 M200,380 L700,880 M200,386 L700,886 M200,392 L700,892 M200,398 L700,898 M200,404 L700,904 M200,410 L700,910 M200,416 L700,916 M200,422 L700,922 M200,428 L700,928 M200,434 L700,934 M200,440 L700,940 M200,446 L700,946 M200,452 L700,952 M200,458 L700,958 M200,464 L700,964 M200,470 L700,970 M200,476 L700,976 M200,482 L700,982 M200,488 L700,988 M200,494 L700,994 M200,500 L700,1000 M200,506 L700,1006 M200,512 L700,1012 M200,518 L700,1018 M200,524 L700,1024 M200,530 L700,1030 M200,536 L700,1036 M200,542 L700,1042 M200,548 L700,1048 M200,554 L700,1054 M200,560 L700,1060 M200,566 L700,1066 M200,572 L700,1072 M200,578 L700,1078 M200,584 L700,1084 M200,590 L700,1090 M200,596 L700,1096 M200,602 L700,1102 M200,608 L700,1108 M200,614 L700,1114 M200,620 L700,1120 M200,626 L700,1126 M200,632 L700,1132 M200,638 L700,1138 M200,644 L700,1144 M200,650 L700,1150 M200,656 L700,1156 M200,662 L700,1162 M200,668 L700,1168 M200,674 L700,1174 M200,680 L700,1180 M200,686 L700,1186 M200,692 L700,1192 M200,698 L700,1198 M200,704 L700,1204 M200,710 L700,1210 M200,716 L700,1216 M200,722 L700,1222 M200,728 L700,1228 M200,734 L700,1234 M200,740 L700,1240 M200,746 L700,1246 M200,752 L700,1252 M200,758 L700,1258 M200,764 L700,1264 M200,770 L700,1270 M200,776 L700,1276 M200,782 L700,1282 M200,788 L700,1288 M200,794 L700,1294 M200,800 L700,1300 M200,806 L700,1306 M200,812 L700,1312 M200,818 L700,1318 M200,824 L700,1324 M200,830 L700,1330 M200,836 L700,1336 M200,842 L700,1342 M200,848 L700,1348 M200,854 L700,1354 M200,860 L700,1360 M200,866 L700,1366 M200,872 L700,1372 M200,878 L700,1378 M200,884 L700,1384 M200,890 L700,1390 M200,896 L700,1396 M200,902 L700,1402 M200,908 L700,1408 M200,914 L700,1414 M200,920 L700,1420 M200,926 L700,1426 M200,932 L700,1432 M200,938 L700,1438 M200,944 L700,1444 M200,950 L700,1450 M200,956 L700,1456 M200,962 L700,1462 M200,968 L700,1468 M200,974 L700,1474 M200,980 L700,1480 M200,986 L700,1486 M200,992 L700,1492 M200,998 L700,1498 M200,1004 L700,1504 M200,1010 L700,1510 M200,1016 L700,1516 M200,1022 L700,1522 M200,1028 L700,1528 M200,1034 L700,1534 M200,1040 L700,1540 M200,1046 L700,1546 M200,1052 L700,1552 M200,1058 L700,1558 M200,1064 L700,1564 M200,1070 L700,1570 M200,1076 L700,1576 M200,1082 L700,1582 M200,1088 L700,1588 M200,1094 L700,1594" stroke="#7a7a7a" stroke-width="1.3" fill="none" clip-path="url(#lob)"/></g>
<path d="M386.9,-243.5 C387.15,-243.48 387.91,-243.48 388.42,-243.39 C388.93,-243.3 389.44,-243.16 389.94,-242.95 C390.45,-242.74 390.96,-242.46 391.47,-242.1 C391.97,-241.74 392.48,-241.31 392.99,-240.79 C393.49,-240.27 394,-239.67 394.51,-238.97 C395.02,-238.28 395.52,-237.49 396.03,-236.61 C396.54,-235.73 397.05,-234.76 397.55,-233.68 C398.06,-232.61 398.57,-231.43 399.07,-230.15 C399.58,-228.87 400.09,-227.49 400.6,-226 C401.1,-224.51 401.61,-222.91 402.12,-221.2 C402.63,-219.49 403.13,-217.67 403.64,-215.73 C404.15,-213.8 404.65,-211.75 405.16,-209.58 C405.67,-207.42 406.18,-205.13 406.68,-202.73 C407.19,-200.32 407.7,-197.8 408.21,-195.15 C408.71,-192.5 409.22,-189.73 409.73,-186.84 C410.23,-183.94 410.74,-180.92 411.25,-177.77 C411.76,-174.62 412.26,-171.34 412.77,-167.93 C413.28,-164.52 413.78,-160.99 414.29,-157.32 C414.8,-153.64 415.31,-149.84 415.81,-145.9 C416.32,-141.97 416.83,-137.89 417.34,-133.68 C417.84,-129.47 418.35,-125.13 418.86,-120.64 C419.36,-116.16 419.87,-111.53 420.38,-106.77 C420.89,-102 421.39,-97.1 421.9,-92.05 C422.41,-87 422.92,-81.81 423.42,-76.47 C423.93,-71.14 424.44,-65.66 424.94,-60.03 C425.45,-54.4 425.96,-48.63 426.47,-42.71 C426.97,-36.79 427.48,-30.72 427.99,-24.5 C428.5,-18.29 429,-11.92 429.51,-5.4 C430.02,1.12 430.52,7.79 431.03,14.62 C431.54,21.44 432.05,28.42 432.55,35.55 C433.06,42.68 433.57,49.96 434.08,57.41 C434.58,64.85 435.09,72.44 435.6,80.2 C436.1,87.96 436.61,95.87 437.12,103.94 C437.63,112.01 438.13,120.24 438.64,128.63 C439.15,137.03 439.66,145.58 440.16,154.29 C440.67,163.01 441.18,171.88 441.68,180.92 C442.19,189.96 442.7,199.16 443.21,208.53 C443.71,217.89 444.22,227.42 444.73,237.12 C445.24,246.82 445.74,256.68 446.25,266.71 C446.76,276.74 447.52,292.2 447.77,297.3" stroke="#8a8a8a" stroke-width="1.3" fill="none"/>
<path d="M453.46,297.3 C453.61,295.5 453.95,290.31 454.34,286.48 C454.73,282.65 455.24,277.92 455.8,274.32 C456.36,270.71 456.97,268.01 457.7,264.85 C458.43,261.7 459.08,258.66 460.18,255.39 C461.27,252.12 462.98,248.06 464.27,245.25 C465.56,242.43 466.21,241.19 467.92,238.49 C469.62,235.78 472.17,231.84 474.49,229.02 C476.8,226.21 479.35,223.95 481.78,221.59 C484.22,219.22 486.65,216.74 489.08,214.83 C491.52,212.91 493.95,211.52 496.38,210.1 C498.81,208.68 501.25,207.44 503.68,206.31 C506.11,205.18 508.55,204.17 510.98,203.34 C513.41,202.5 515.84,202.16 518.28,201.31 C520.71,200.45 523.14,199.33 525.58,198.2 C528.01,197.07 530.44,195.79 532.88,194.55 C535.31,193.31 537.74,192.11 540.17,190.76 C542.61,189.41 545.04,187.95 547.47,186.44 C549.91,184.93 552.34,183.33 554.77,181.7 C557.2,180.08 559.64,178.23 562.07,176.7 C564.5,175.17 566.94,173.75 569.37,172.51 C571.8,171.27 574.23,170.17 576.67,169.27 C579.1,168.36 581.53,167.62 583.97,167.1 C586.4,166.58 587.62,166.4 591.26,166.16 C594.91,165.91 601,165.66 605.86,165.62 C610.73,165.57 616.32,165.57 620.46,165.89 C624.6,166.2 627.03,166.67 630.68,167.51 C634.33,168.34 638.71,169.72 642.36,170.89 C646.01,172.06 648.44,172.85 652.57,174.54 C656.71,176.23 662.79,178.91 667.17,181.03 C671.55,183.15 676.9,186.21 678.85,187.25" stroke="#8a8a8a" stroke-width="1.3" fill="none"/>
</g>
<line x1="110.75" y1="26.9" x2="340.6" y2="297.3" stroke="#8a8a8a" stroke-width="1.45"/>
<line x1="48.85" y1="117.03" x2="120.33" y2="150.3" stroke="#8a8a8a" stroke-width="1.4" stroke-dasharray="5.3 1.9" stroke-dashoffset="0.6"/>
<line x1="120.33" y1="150.3" x2="207.85" y2="191.04" stroke="#8a8a8a" stroke-width="1.4"/>
<line x1="205.67" y1="190.03" x2="235.57" y2="203.95" stroke="#8a8a8a" stroke-width="1.4" stroke-dasharray="5 5.2" stroke-dashoffset="-2"/>
<line x1="515.65" y1="26.9" x2="547.47" y2="59.75" stroke="#8a8a8a" stroke-width="1.3"/>
<line x1="555.36" y1="68" x2="574.48" y2="88.02" stroke="#8a8a8a" stroke-width="1.2"/>
<path d="M135.6,211.5 C136.83,209.75 140.53,204.5 143,201 C145.47,197.5 147.83,193.92 150.4,190.5 C152.97,187.08 156.03,183.2 158.4,180.5 C160.77,177.8 162.33,175.92 164.6,174.3 C166.87,172.68 169.6,171.32 172,170.8 C174.4,170.28 176.83,170.58 179,171.2 C181.17,171.82 183.17,173.03 185,174.5 C186.83,175.97 188.23,177.65 190,180 C191.77,182.35 193.58,185.7 195.6,188.6 C197.62,191.5 199.87,194.33 202.1,197.4 C204.33,200.47 206.85,204.15 209,207 C211.15,209.85 212.95,211.9 215,214.5 C217.05,217.1 219.13,220.1 221.3,222.6 C223.47,225.1 225.45,227.25 228,229.5 C230.55,231.75 235.17,235 236.6,236.1" stroke="#7d7d7d" stroke-width="1.3" fill="none" stroke-dasharray="4.6 2.6"/>
<line x1="142.2" y1="39" x2="142.2" y2="74.5" stroke="#c41e00" stroke-width="2"/>
<line x1="187.2" y1="98.3" x2="187.2" y2="134.6" stroke="#c41e00" stroke-width="2"/>
<line x1="218.2" y1="146.9" x2="218.2" y2="183" stroke="#c41e00" stroke-width="2"/>
<line x1="149.6" y1="56.7" x2="149.6" y2="90.5" stroke="#7b2fbe" stroke-width="2"/>
<line x1="181.5" y1="63.2" x2="181.5" y2="98.6" stroke="#7b2fbe" stroke-width="2"/>
<line x1="189" y1="83.9" x2="189" y2="134.4" stroke="#7b2fbe" stroke-width="2"/>
<line x1="202.1" y1="126.1" x2="202.1" y2="170.8" stroke="#7b2fbe" stroke-width="2"/>
<line x1="209.3" y1="141.1" x2="209.3" y2="153.3" stroke="#b06b58" stroke-width="1.6"/>
<line x1="224.4" y1="146.9" x2="224.4" y2="159.1" stroke="#b06b58" stroke-width="1.6"/>
<line x1="231.9" y1="153.1" x2="231.9" y2="165.1" stroke="#b06b58" stroke-width="1.6"/>
<line x1="169.7" y1="165.1" x2="169.7" y2="176.9" stroke="#ffa514" stroke-width="2"/>
<line x1="179.9" y1="165.1" x2="179.9" y2="188.7" stroke="#ffa514" stroke-width="2"/>
<line x1="156.9" y1="183.5" x2="156.9" y2="201.1" stroke="#ffa514" stroke-width="2"/>
<line x1="142.3" y1="201.1" x2="142.3" y2="225.3" stroke="#ffa514" stroke-width="2"/>
<line x1="192" y1="174.4" x2="192" y2="203.7" stroke="#ffa514" stroke-width="2"/>
<line x1="202" y1="186.2" x2="202" y2="197.6" stroke="#ffa514" stroke-width="2"/>
<line x1="215.2" y1="204" x2="215.2" y2="222.4" stroke="#ffa514" stroke-width="2"/>
<line x1="159.9" y1="164.9" x2="159.9" y2="188" stroke="#e6620a" stroke-width="2"/>
<line x1="179.9" y1="171.3" x2="179.9" y2="194.5" stroke="#e6620a" stroke-width="2"/>
<line x1="144.9" y1="183.1" x2="144.9" y2="206.6" stroke="#e6620a" stroke-width="2"/>
<line x1="203.1" y1="207.3" x2="203.1" y2="218" stroke="#e6620a" stroke-width="2"/>
<line x1="207.1" y1="213.6" x2="207.1" y2="224.6" stroke="#e6620a" stroke-width="2"/>
<line x1="228" y1="222.1" x2="228" y2="234.5" stroke="#e6620a" stroke-width="2"/>
<line x1="238.6" y1="222.1" x2="238.6" y2="234.5" stroke="#e6620a" stroke-width="2"/>
<rect x="146.2" y="70.5" width="6.8" height="6.8" fill="#7b2fbe"/>
<rect x="178.1" y="77.7" width="6.8" height="6.8" fill="#7b2fbe"/>
<rect x="185.6" y="105.8" width="6.8" height="6.8" fill="#7b2fbe"/>
<rect x="198.7" y="145" width="6.8" height="6.8" fill="#7b2fbe"/>
<path d="M209.3,143.4 L212.4,147.3 L209.3,151.2 L206.2,147.3 Z" fill="#b06b58"/>
<path d="M224.4,149.2 L227.5,153.1 L224.4,157 L221.3,153.1 Z" fill="#b06b58"/>
<path d="M231.9,155.2 L235,159.1 L231.9,163 L228.8,159.1 Z" fill="#b06b58"/>
<path d="M142.2,54 L146,60.8 L138.4,60.8 Z" fill="#c41e00"/>
<path d="M187.2,113.2 L191,120 L183.4,120 Z" fill="#c41e00"/>
<path d="M218.2,162 L222,168.8 L214.4,168.8 Z" fill="#c41e00"/>
<circle cx="169.7" cy="170.7" r="3.6" fill="#ffa514"/>
<circle cx="179.9" cy="176.9" r="3.6" fill="#ffa514"/>
<circle cx="156.9" cy="192.4" r="3.6" fill="#ffa514"/>
<circle cx="142.3" cy="213.1" r="3.6" fill="#ffa514"/>
<circle cx="192" cy="189" r="3.6" fill="#ffa514"/>
<circle cx="202" cy="191.8" r="3.6" fill="#ffa514"/>
<circle cx="215.2" cy="213.1" r="3.6" fill="#ffa514"/>
<circle cx="159.9" cy="176.4" r="3.6" fill="#e6620a"/>
<circle cx="179.9" cy="183" r="3.6" fill="#e6620a"/>
<circle cx="144.9" cy="194.9" r="3.6" fill="#e6620a"/>
<circle cx="203.1" cy="212.6" r="3.6" fill="#e6620a"/>
<circle cx="207.1" cy="219.1" r="3.6" fill="#e6620a"/>
<circle cx="228" cy="228.3" r="3.6" fill="#e6620a"/>
<circle cx="238.6" cy="228.1" r="3.6" fill="#e6620a"/>
<rect x="267.6" y="31.8" width="68.2" height="98.9" fill="#fff" stroke="#111" stroke-width="1.2"/>
<path d="M279.1,37.35 L283,44.15 L275.2,44.15 Z" fill="#c41e00"/>
<rect x="275.6" y="56.1" width="7" height="7" fill="#7b2fbe"/>
<path d="M279,73.9 L282.2,78.6 L279,83.3 L275.8,78.6 Z" fill="#b06b58"/>
<circle cx="279.1" cy="98.7" r="3.5" fill="#ffa514"/>
<circle cx="279.1" cy="118.6" r="3.5" fill="#e6620a"/>
<text class="m" x="290.1" y="46.15" font-size="14.2" fill="#111" textLength="8.68" lengthAdjust="spacingAndGlyphs">T</text>
<text class="m" x="290.1" y="65" font-size="14.2" fill="#111" textLength="8.68" lengthAdjust="spacingAndGlyphs">T</text>
<text class="m" x="290.1" y="84" font-size="14.2" fill="#111" textLength="8.68" lengthAdjust="spacingAndGlyphs">T</text>
<text class="m" x="290.1" y="104.1" font-size="14.2" fill="#111" textLength="8.68" lengthAdjust="spacingAndGlyphs">T</text>
<text class="m" x="290.1" y="124" font-size="14.2" fill="#111" textLength="8.68" lengthAdjust="spacingAndGlyphs">T</text>
<text class="r" x="299.3" y="47.55" font-size="10.2" fill="#111" textLength="13.6" lengthAdjust="spacingAndGlyphs">AF</text>
<text class="r" x="297.8" y="66.2" font-size="10.2" fill="#111">0</text>
<text class="r" x="298.4" y="85.8" font-size="10.2" fill="#111" textLength="30.2" lengthAdjust="spacingAndGlyphs">torque</text>
<text class="r" x="298.4" y="105.3" font-size="10.2" fill="#111" textLength="33.4" lengthAdjust="spacingAndGlyphs">x−rays</text>
<text class="r" x="298.4" y="124.9" font-size="10.2" fill="#111" textLength="28.1" lengthAdjust="spacingAndGlyphs">optics</text>
<text class="m" x="77.7" y="87.5" font-size="14.2" fill="#111" textLength="8.68" lengthAdjust="spacingAndGlyphs">T</text>
<text class="m" x="86.6" y="88.9" font-size="11.8" fill="#111">N</text>
<text class="s" x="122.3" y="117.1" font-size="13.7" fill="#111" textLength="17" lengthAdjust="spacingAndGlyphs">PG</text>
<text class="m" x="165" y="57.6" font-size="14.2" fill="#111" textLength="8.68" lengthAdjust="spacingAndGlyphs">T</text>
<path d="M178,48 L178,52.2 M176.18,49.05 L179.82,51.15 M176.18,51.15 L179.82,49.05" stroke="#222" stroke-width="0.9" stroke-linecap="round"/>
<text class="m" x="106.3" y="171.9" font-size="14.2" fill="#111" textLength="8.68" lengthAdjust="spacingAndGlyphs">T</text>
<path d="M120.3,162.2 L120.3,166.4 M118.48,163.25 L122.12,165.35 M118.48,165.35 L122.12,163.25" stroke="#222" stroke-width="0.9" stroke-linecap="round"/>
<path d="M125.3,162.2 L125.3,166.4 M123.48,163.25 L127.12,165.35 M123.48,165.35 L127.12,163.25" stroke="#222" stroke-width="0.9" stroke-linecap="round"/>
<text class="s" x="63.6" y="237.5" font-size="13.6" fill="#111" textLength="16.5" lengthAdjust="spacingAndGlyphs">AF</text>
<text class="s" x="151.4" y="237.9" font-size="13.6" fill="#111" textLength="51.3" lengthAdjust="spacingAndGlyphs">PG + FL</text>
<text class="s" x="231.7" y="267.5" font-size="13.7" fill="#111" textLength="15.4" lengthAdjust="spacingAndGlyphs">SC</text>
<text class="s" x="267.6" y="147.4" font-size="13.6" fill="#111" textLength="19.2" lengthAdjust="spacingAndGlyphs">SM</text>
<text class="m" x="311.2" y="237.9" font-size="14.2" fill="#111" textLength="8.68" lengthAdjust="spacingAndGlyphs">T</text>
<text class="m" x="319.5" y="239.9" font-size="10" fill="#111">c</text>
<line x1="142.4" y1="280.3" x2="142.4" y2="289" stroke="#000" stroke-width="1.6"/>
<path d="M136.3,287.7 L148.5,287.7 L142.4,297 Z" fill="#000"/>
<text class="m" x="488.1" y="61.3" font-size="14.2" fill="#111" textLength="8.68" lengthAdjust="spacingAndGlyphs">T</text>
<path d="M501.2,51.7 L501.2,55.9 M499.38,52.75 L503.02,54.85 M499.38,54.85 L503.02,52.75" stroke="#222" stroke-width="0.9" stroke-linecap="round"/>
<path d="M507.1,51.7 L507.1,55.9 M505.28,52.75 L508.92,54.85 M505.28,54.85 L508.92,52.75" stroke="#222" stroke-width="0.9" stroke-linecap="round"/>
<text class="m" x="605.3" y="61.4" font-size="14.2" fill="#111" textLength="8.68" lengthAdjust="spacingAndGlyphs">T</text>
<path d="M618.4,51.9 L618.4,56.1 M616.58,52.95 L620.22,55.05 M616.58,55.05 L620.22,52.95" stroke="#222" stroke-width="0.9" stroke-linecap="round"/>
<text class="m" x="415.3" y="163.3" font-size="14.2" fill="#111" textLength="8.68" lengthAdjust="spacingAndGlyphs">T</text>
<text class="m" x="424.4" y="164.4" font-size="11.8" fill="#111">N</text>
<text class="m" x="649.5" y="163.2" font-size="14.2" fill="#111" textLength="8.68" lengthAdjust="spacingAndGlyphs">T</text>
<text class="m" x="657.4" y="164.3" font-size="10" fill="#111">c</text>
<rect x="465.4" y="94.4" width="29.5" height="68.2" fill="#fff" fill-opacity="0.55" stroke="#111" stroke-width="1.2"/>
<path d="M470.9,94.4 C473.4,108.4 476.8,124.8 480.3,124.8 C483.8,124.8 487.2,108.4 489.7,94.4" stroke="#000" stroke-width="2" fill="none"/>
<line x1="480.3" y1="124.8" x2="480.3" y2="157.5" stroke="#000" stroke-width="2.1"/>
<rect x="503.3" y="94.4" width="29.5" height="68.2" fill="#fff" fill-opacity="0.55" stroke="#111" stroke-width="1.2"/>
<path d="M508.8,94.4 C511.3,108.4 514.7,121.6 518.2,121.6 C521.7,121.6 525.1,108.4 527.6,94.4" stroke="#000" stroke-width="2" fill="none"/>
<line x1="518.2" y1="121.6" x2="518.2" y2="144.2" stroke="#000" stroke-width="2.1"/>
<rect x="540" y="94.4" width="29.5" height="68.2" fill="#fff" fill-opacity="0.55" stroke="#111" stroke-width="1.2"/>
<path d="M545.5,94.4 C548,108.4 551.4,121 554.9,121 C558.4,121 561.8,108.4 564.3,94.4" stroke="#000" stroke-width="2" fill="none"/>
<line x1="554.9" y1="121" x2="554.9" y2="134.7" stroke="#000" stroke-width="2.1"/>
<rect x="465.4" y="222.9" width="29.5" height="68.2" fill="#fff" fill-opacity="0.55" stroke="#111" stroke-width="1.2"/>
<path d="M470.9,222.9 C473.4,236.9 476.8,252.6 480.3,252.6 C483.8,252.6 487.2,236.9 489.7,222.9" stroke="#000" stroke-width="2" fill="none"/>
<line x1="480.3" y1="252.6" x2="480.3" y2="286" stroke="#000" stroke-width="2.1"/>
<rect x="503.3" y="222.9" width="29.5" height="68.2" fill="#fff" fill-opacity="0.55" stroke="#111" stroke-width="1.2"/>
<path d="M508.8,222.9 C511.3,236.9 514.7,250.5 518.2,250.5 C521.7,250.5 525.1,236.9 527.6,222.9" stroke="#000" stroke-width="2" fill="none"/>
<line x1="518.2" y1="250.5" x2="518.2" y2="273" stroke="#000" stroke-width="2.1"/>
<rect x="540" y="222.9" width="29.5" height="68.2" fill="#fff" fill-opacity="0.55" stroke="#111" stroke-width="1.2"/>
<path d="M545.6,222.9 Q548.6,242.1 554.9,250.1 Q561.4,254.6 564.2,261.7" stroke="#000" stroke-width="2" fill="none"/>
<path d="M564.2,222.9 Q561.2,242.1 554.9,250.1 Q548.4,254.6 545.6,261.7" stroke="#000" stroke-width="2" fill="none"/>
<circle cx="554.9" cy="250.1" r="3" fill="#000"/>
<g clip-path="url(#clipb)"><path d="M453.46,297.3 C453.61,295.5 453.95,290.31 454.34,286.48 C454.73,282.65 455.24,277.92 455.8,274.32 C456.36,270.71 456.97,268.01 457.7,264.85 C458.43,261.7 459.08,258.66 460.18,255.39 C461.27,252.12 462.98,248.06 464.27,245.25 C465.56,242.43 466.21,241.19 467.92,238.49 C469.62,235.78 472.17,231.84 474.49,229.02 C476.8,226.21 479.35,223.95 481.78,221.59 C484.22,219.22 486.65,216.74 489.08,214.83 C491.52,212.91 493.95,211.52 496.38,210.1 C498.81,208.68 501.25,207.44 503.68,206.31 C506.11,205.18 508.55,204.17 510.98,203.34 C513.41,202.5 515.84,202.16 518.28,201.31 C520.71,200.45 523.14,199.33 525.58,198.2 C528.01,197.07 530.44,195.79 532.88,194.55 C535.31,193.31 537.74,192.11 540.17,190.76 C542.61,189.41 545.04,187.95 547.47,186.44 C549.91,184.93 552.34,183.33 554.77,181.7 C557.2,180.08 559.64,178.23 562.07,176.7 C564.5,175.17 566.94,173.75 569.37,172.51 C571.8,171.27 574.23,170.17 576.67,169.27 C579.1,168.36 581.53,167.62 583.97,167.1 C586.4,166.58 587.62,166.4 591.26,166.16 C594.91,165.91 601,165.66 605.86,165.62 C610.73,165.57 616.32,165.57 620.46,165.89 C624.6,166.2 627.03,166.67 630.68,167.51 C634.33,168.34 638.71,169.72 642.36,170.89 C646.01,172.06 648.44,172.85 652.57,174.54 C656.71,176.23 662.79,178.91 667.17,181.03 C671.55,183.15 676.9,186.21 678.85,187.25" stroke="#8a8a8a" stroke-width="1.2" fill="none"/></g>
<rect x="48.85" y="26.9" width="291.75" height="270.4" fill="none" stroke="#1c1c1c" stroke-width="1.3"/>
<path d="M48.85,297.3 V301.7 M121.79,297.3 V301.7 M194.72,297.3 V301.7 M267.66,297.3 V301.7 M340.6,297.3 V301.7 M85.32,297.3 V299.7 M158.26,297.3 V299.7 M231.19,297.3 V299.7 M304.13,297.3 V299.7 M48.85,297.3 H44.45 M48.85,267.26 H44.45 M48.85,237.21 H44.45 M48.85,207.17 H44.45 M48.85,177.12 H44.45 M48.85,147.08 H44.45 M48.85,117.03 H44.45 M48.85,86.99 H44.45 M48.85,56.94 H44.45 M48.85,26.9 H44.45" stroke="#1c1c1c" stroke-width="1.3" fill="none"/>
<text class="s" x="48.85" y="316.6" font-size="12.9" text-anchor="middle" fill="#111">0</text>
<text class="s" x="121.79" y="316.6" font-size="12.9" text-anchor="middle" fill="#111">5</text>
<text class="s" x="194.72" y="316.6" font-size="12.9" text-anchor="middle" fill="#111" textLength="13.5" lengthAdjust="spacingAndGlyphs">10</text>
<text class="s" x="267.66" y="316.6" font-size="12.9" text-anchor="middle" fill="#111" textLength="13.5" lengthAdjust="spacingAndGlyphs">15</text>
<text class="s" x="340.6" y="316.6" font-size="12.9" text-anchor="middle" fill="#111" textLength="13.5" lengthAdjust="spacingAndGlyphs">20</text>
<text class="s" x="39.35" y="301.9" font-size="12.9" text-anchor="end" fill="#111">0</text>
<text class="s" x="39.35" y="271.86" font-size="12.9" text-anchor="end" fill="#111" textLength="13.5" lengthAdjust="spacingAndGlyphs">50</text>
<text class="s" x="39.35" y="241.81" font-size="12.9" text-anchor="end" fill="#111" textLength="20.25" lengthAdjust="spacingAndGlyphs">100</text>
<text class="s" x="39.35" y="211.77" font-size="12.9" text-anchor="end" fill="#111" textLength="20.25" lengthAdjust="spacingAndGlyphs">150</text>
<text class="s" x="39.35" y="181.72" font-size="12.9" text-anchor="end" fill="#111" textLength="20.25" lengthAdjust="spacingAndGlyphs">200</text>
<text class="s" x="39.35" y="151.68" font-size="12.9" text-anchor="end" fill="#111" textLength="20.25" lengthAdjust="spacingAndGlyphs">250</text>
<text class="s" x="39.35" y="121.63" font-size="12.9" text-anchor="end" fill="#111" textLength="20.25" lengthAdjust="spacingAndGlyphs">300</text>
<text class="s" x="39.35" y="91.59" font-size="12.9" text-anchor="end" fill="#111" textLength="20.25" lengthAdjust="spacingAndGlyphs">350</text>
<text class="s" x="39.35" y="61.54" font-size="12.9" text-anchor="end" fill="#111" textLength="20.25" lengthAdjust="spacingAndGlyphs">400</text>
<text class="s" x="39.35" y="31.5" font-size="12.9" text-anchor="end" fill="#111" textLength="20.25" lengthAdjust="spacingAndGlyphs">450</text>
<text class="s" x="122.83" y="334.9" font-size="13" fill="#111" style="stroke-width:0.05px" textLength="143.9" lengthAdjust="spacingAndGlyphs">Hole concentration <tspan class="m">p</tspan> (%)</text>
<rect x="386.9" y="26.9" width="291.95" height="270.4" fill="none" stroke="#1c1c1c" stroke-width="1.3"/>
<path d="M386.9,297.3 V301.7 M459.89,297.3 V301.7 M532.88,297.3 V301.7 M605.86,297.3 V301.7 M678.85,297.3 V301.7 M423.39,297.3 V299.7 M496.38,297.3 V299.7 M569.37,297.3 V299.7 M642.36,297.3 V299.7 M386.9,297.3 H382.5 M386.9,263.5 H382.5 M386.9,229.7 H382.5 M386.9,195.9 H382.5 M386.9,162.1 H382.5 M386.9,128.3 H382.5 M386.9,94.5 H382.5 M386.9,60.7 H382.5 M386.9,26.9 H382.5" stroke="#1c1c1c" stroke-width="1.3" fill="none"/>
<text class="s" x="386.9" y="316.6" font-size="12.9" text-anchor="middle" fill="#111">0</text>
<text class="s" x="459.89" y="316.6" font-size="12.9" text-anchor="middle" fill="#111">5</text>
<text class="s" x="532.88" y="316.6" font-size="12.9" text-anchor="middle" fill="#111" textLength="13.5" lengthAdjust="spacingAndGlyphs">10</text>
<text class="s" x="605.86" y="316.6" font-size="12.9" text-anchor="middle" fill="#111" textLength="13.5" lengthAdjust="spacingAndGlyphs">15</text>
<text class="s" x="678.85" y="316.6" font-size="12.9" text-anchor="middle" fill="#111" textLength="13.5" lengthAdjust="spacingAndGlyphs">20</text>
<text class="s" x="377.4" y="301.9" font-size="12.9" text-anchor="end" fill="#111">0</text>
<text class="s" x="377.4" y="268.1" font-size="12.9" text-anchor="end" fill="#111" textLength="13.5" lengthAdjust="spacingAndGlyphs">25</text>
<text class="s" x="377.4" y="234.3" font-size="12.9" text-anchor="end" fill="#111" textLength="13.5" lengthAdjust="spacingAndGlyphs">50</text>
<text class="s" x="377.4" y="200.5" font-size="12.9" text-anchor="end" fill="#111" textLength="13.5" lengthAdjust="spacingAndGlyphs">75</text>
<text class="s" x="377.4" y="166.7" font-size="12.9" text-anchor="end" fill="#111" textLength="20.25" lengthAdjust="spacingAndGlyphs">100</text>
<text class="s" x="377.4" y="132.9" font-size="12.9" text-anchor="end" fill="#111" textLength="20.25" lengthAdjust="spacingAndGlyphs">125</text>
<text class="s" x="377.4" y="99.1" font-size="12.9" text-anchor="end" fill="#111" textLength="20.25" lengthAdjust="spacingAndGlyphs">150</text>
<text class="s" x="377.4" y="65.3" font-size="12.9" text-anchor="end" fill="#111" textLength="20.25" lengthAdjust="spacingAndGlyphs">175</text>
<text class="s" x="377.4" y="31.5" font-size="12.9" text-anchor="end" fill="#111" textLength="20.25" lengthAdjust="spacingAndGlyphs">200</text>
<text class="s" x="460.98" y="334.9" font-size="13" fill="#111" style="stroke-width:0.05px" textLength="143.9" lengthAdjust="spacingAndGlyphs">Hole concentration <tspan class="m">p</tspan> (%)</text>
<text class="s" transform="translate(18.7,10.9) scale(1,1.17)" font-size="13" fill="#111">(</text>
<text class="s" transform="translate(34.6,10.9) scale(1,1.17)" font-size="13" fill="#111" text-anchor="end">)</text>
<text class="s" x="23.6" y="9.8" font-size="13" fill="#111">a</text>
<text class="s" transform="translate(356,10.9) scale(1,1.17)" font-size="13" fill="#111">(</text>
<text class="s" transform="translate(372.8,10.9) scale(1,1.17)" font-size="13" fill="#111" text-anchor="end">)</text>
<text class="s" x="361.6" y="9.8" font-size="13" fill="#111">b</text>
<text class="s" transform="translate(10.3,178.7) rotate(-90)" font-size="14" fill="#111" textLength="33.8" lengthAdjust="spacingAndGlyphs"><tspan class="m" font-size="14.5">T</tspan> (K)</text>
</svg></body></html>
